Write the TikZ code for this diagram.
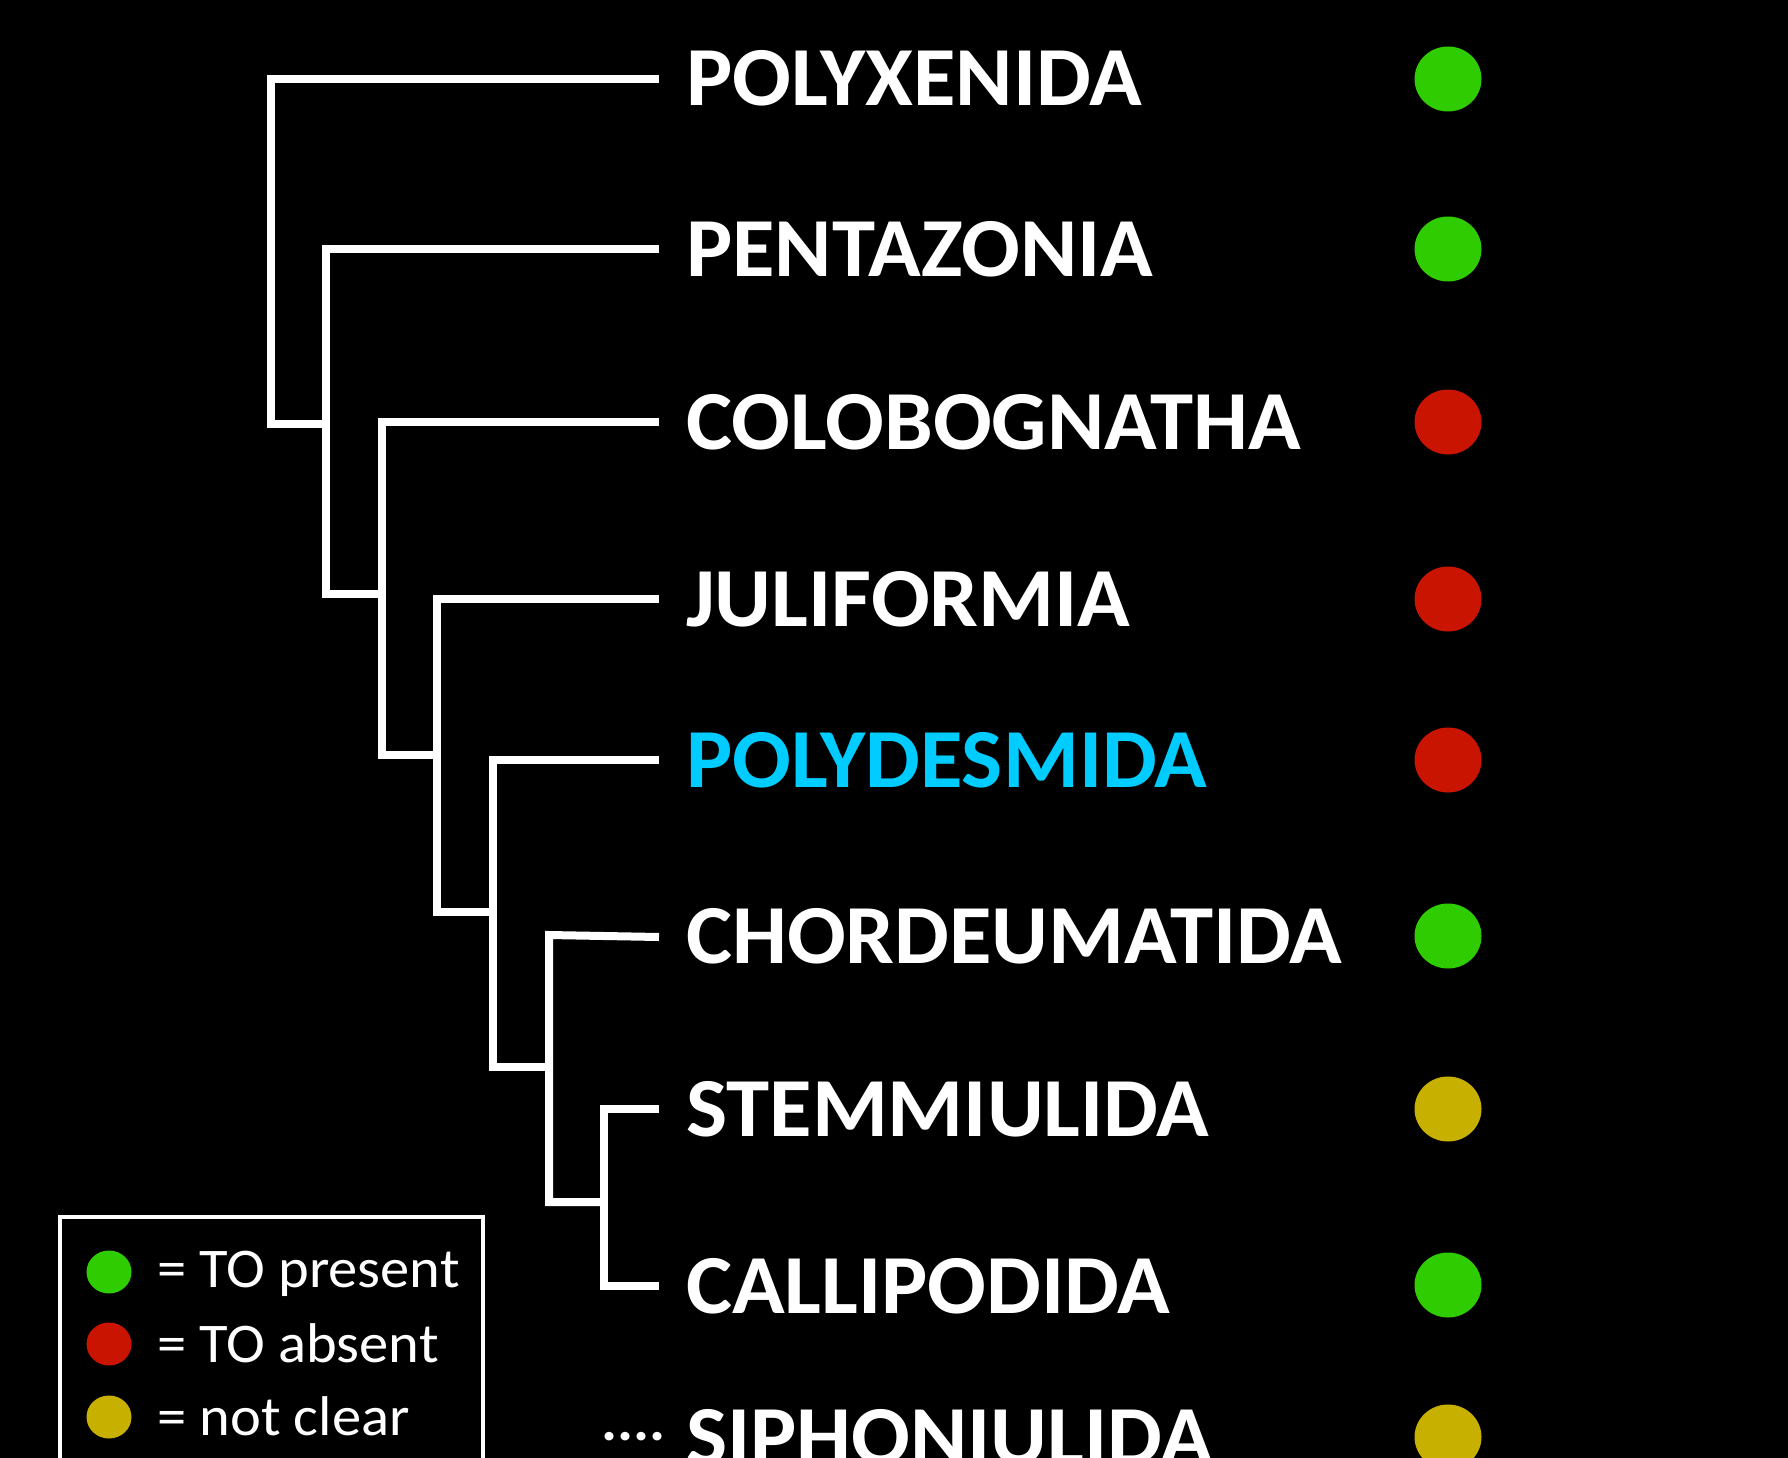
\documentclass[tikz,border=0pt]{standalone}
\usepackage{fontspec}
\setmainfont{Carlito}[FakeStretch=1.035]
\newfontfamily\legfont{Carlito}[FakeStretch=1.045]
\definecolor{cgreen}{RGB}{46,204,0}
\definecolor{cred}{RGB}{200,20,0}
\definecolor{cyellow}{RGB}{200,176,0}
\definecolor{ccyan}{RGB}{0,204,255}
\begin{document}
\begin{tikzpicture}[x=1pt,y=-1pt,
  branch/.style={draw=white,line width=8pt,line join=miter,line cap=butt},
  taxon/.style={anchor=base west,inner sep=0pt,text=white,font=\fontsize{84}{90}\selectfont\bfseries},
  dotmark/.style={ellipse,minimum width=67pt,minimum height=65pt,inner sep=0pt,draw=none},
  legdot/.style={ellipse,minimum width=45pt,minimum height=43pt,inner sep=0pt,draw=none},
  legtext/.style={anchor=base west,inner sep=0pt,text=white,font=\legfont\fontsize{56}{60}\selectfont}]
\usetikzlibrary{shapes.geometric}
\fill[black] (0,0) rectangle (1788,1458);
\useasboundingbox (0,0) rectangle (1788,1458);
\clip (0,0) rectangle (1788,1458);
% leaf ends
\coordinate (t1) at (659,79);
\coordinate (t2) at (659,249);
\coordinate (t3) at (659,422);
\coordinate (t4) at (659,599);
\coordinate (t5) at (659,760);
\coordinate (t6) at (659,937);
\coordinate (t7) at (659,1109);
\coordinate (t8) at (659,1286);
% clade corners
\coordinate (c1) at (271,79);   \coordinate (b1) at (271,424);  \coordinate (j1) at (326,424);
\coordinate (c2) at (326,249);  \coordinate (b2) at (326,594);  \coordinate (j2) at (382,594);
\coordinate (c3) at (382,422);  \coordinate (b3) at (382,755);  \coordinate (j3) at (437,755);
\coordinate (c4) at (437,599);  \coordinate (b4) at (437,912);  \coordinate (j4) at (493,912);
\coordinate (c5) at (493,760);  \coordinate (b5) at (493,1067); \coordinate (j5) at (549,1067);
\coordinate (c6) at (549,935);  \coordinate (b6) at (549,1202); \coordinate (j6) at (604,1202);
\coordinate (c7) at (604,1109); \coordinate (b7) at (604,1286);
% tree
\draw[branch] (t1) -- (c1) -- (b1) -- (j1);
\draw[branch] (t2) -- (c2) -- (b2) -- (j2);
\draw[branch] (t3) -- (c3) -- (b3) -- (j3);
\draw[branch] (t4) -- (c4) -- (b4) -- (j4);
\draw[branch] (t5) -- (c5) -- (b5) -- (j5);
\draw[branch] (t6) -- (c6) -- (b6) -- (j6);
\draw[branch] (t7) -- (c7) -- (b7) -- (t8);
% labels
\node[taxon] (n1) at (686,106) {POLYXENIDA};
\node[taxon] (n2) at (686,276) {PENTAZONIA};
\node[taxon] (n3) at (686,449) {COLOBOGNATHA};
\node[taxon] (n4) at (686,626) {JULIFORMIA};
\node[taxon,text=ccyan] (n5) at (686,787) {POLYDESMIDA};
\node[taxon] (n6) at (686,963) {CHORDEUMATIDA};
\node[taxon] (n7) at (686,1136) {STEMMIULIDA};
\node[taxon] (n8) at (686,1313) {CALLIPODIDA};
\node[taxon] (n9) at (686,1464) {SIPHONIULIDA};
\node[anchor=base west,inner sep=0pt,text=white,font=\fontsize{58}{60}\selectfont\bfseries] (dots) at (601,1440) {....};
% status dots
\node[dotmark,fill=cgreen] (d1) at (1448,79) {};
\node[dotmark,fill=cgreen] (d2) at (1448,249) {};
\node[dotmark,fill=cred] (d3) at (1448,422) {};
\node[dotmark,fill=cred] (d4) at (1448,599) {};
\node[dotmark,fill=cred] (d5) at (1448,760) {};
\node[dotmark,fill=cgreen] (d6) at (1448,936) {};
\node[dotmark,fill=cyellow] (d7) at (1448,1109) {};
\node[dotmark,fill=cgreen] (d8) at (1448,1285) {};
\node[dotmark,fill=cyellow] (d9) at (1448,1437) {};
% legend
\draw[white,line width=4.5pt] (60,1500) -- (60,1217) -- (483,1217) -- (483,1500);
\node[legdot,fill=cgreen] (l1) at (109,1272) {};
\node[legdot,fill=cred] (l2) at (109,1344) {};
\node[legdot,fill=cyellow] (l3) at (109,1417) {};
\node[legtext] (lt1) at (157,1287) {= TO present};
\node[legtext] (lt2) at (157,1362) {= TO absent};
\node[legtext] (lt3) at (157,1435) {= not clear};
\end{tikzpicture}
\end{document}
